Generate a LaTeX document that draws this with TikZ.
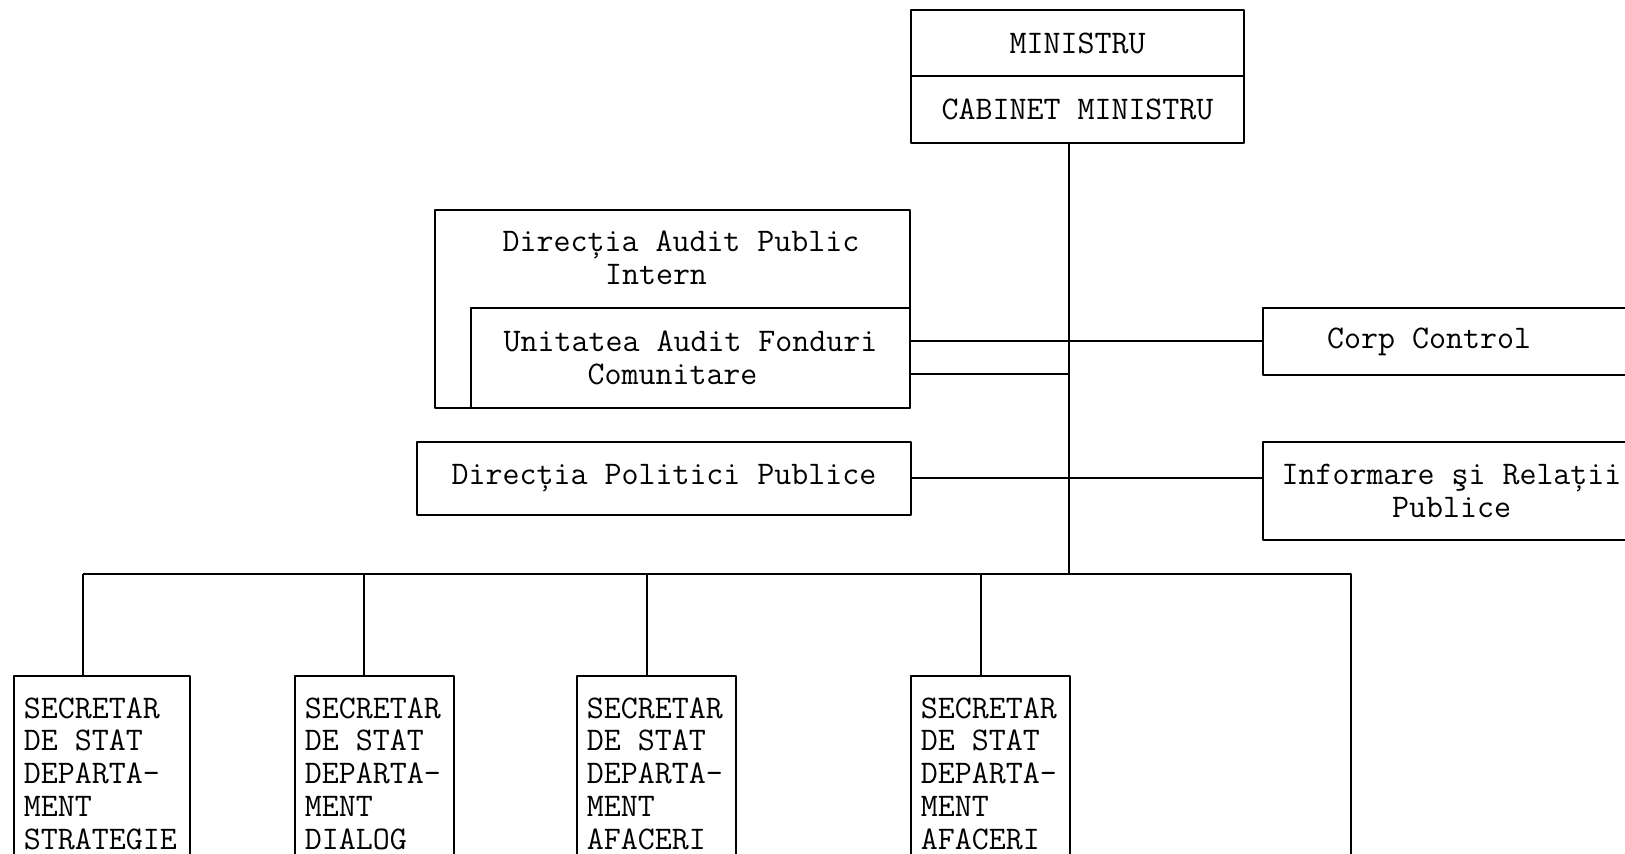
\documentclass[tikz,border=0pt]{standalone}
\usepackage{fontspec}
\usetikzlibrary{positioning}
\begin{document}
\begin{tikzpicture}[x=0.5pt, y=-0.5pt, line width=1pt, line join=round,
  font=\ttfamily\fontsize{16.5pt}{16.4pt}\selectfont,
  box/.style={draw, inner sep=0pt, align=center},
  secbox/.style={draw, anchor=north west, align=flush left, inner xsep=4.9pt, inner ysep=11pt,
    text height=10pt, text depth=90pt}]
\useasboundingbox (0,0) rectangle (1625,854);
\clip (0,0) rectangle (1625,854);
% top of the chart
\node[box, minimum width=166.5pt, minimum height=33pt] (min) at (1077.5,43) {MINISTRU};
\node[box, minimum width=166.5pt, minimum height=33.5pt] (cab) at (1077.5,109.5) {CABINET MINISTRU};
% audit
\node[box, minimum width=237.5pt, minimum height=99pt] (audit) at (672.5,309) {};
\node[align=center, inner sep=0pt] (dapi) at (672.5,257.5) {\hspace*{8.5pt}Direcția Audit Public\\Intern\hspace*{16.5pt}};
\node[box, minimum width=219.5pt, minimum height=50pt] (uafc) at (690.5,358) {Unitatea Audit Fonduri\\Comunitare\hspace*{18pt}};
\node[box, minimum width=247pt, minimum height=36.5pt] (pol) at (664,478.5) {Direcția Politici Publice};
% right side
\node[box, minimum width=188.5pt, minimum height=33.5pt] (corp) at (1451.5,341.5) {Corp Control\hspace*{22.5pt}};
\node[box, minimum width=188.5pt, minimum height=49pt] (inf) at (1451.5,491) {Informare şi Relații\\Publice};
% secretari de stat
\node[secbox, text width=78pt] (s1) at (13,675) {SECRETAR\\DE STAT\\DEPARTA-\\MENT\\STRATEGIE};
\node[secbox, text width=69.7pt] (s2) at (294,675) {SECRETAR\\DE STAT\\DEPARTA-\\MENT\\DIALOG};
\node[secbox, text width=69.7pt] (s3) at (576,675) {SECRETAR\\DE STAT\\DEPARTA-\\MENT\\AFACERI};
\node[secbox, text width=69.7pt] (s4) at (910,675) {SECRETAR\\DE STAT\\DEPARTA-\\MENT\\AFACERI};
% bus
\coordinate (bus) at (1069,574);
\coordinate (b1) at (83,574);
\coordinate (b2) at (364,574);
\coordinate (b3) at (647,574);
\coordinate (b4) at (981,574);
\coordinate (b5) at (1351,574);
\coordinate (b5end) at (1351,900);
\draw (cab.south -| bus) -- (bus);
\draw (uafc.east |- corp.west) -- (corp.west);
\draw (uafc.east |- 0,374) -- (bus |- 0,374);
\draw (pol.east) -- (pol.east -| inf.west);
\draw (b1) -- (b5) -- (b5end);
\foreach \i in {1,...,4}
  \draw (b\i) -- (b\i |- s\i.north);
\end{tikzpicture}
\end{document}
